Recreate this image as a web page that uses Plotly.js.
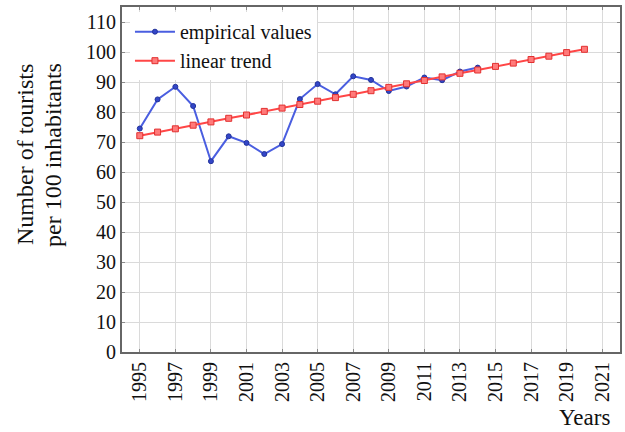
<!DOCTYPE html>
<html>
<head>
<meta charset="utf-8">
<script src="https://cdn.plot.ly/plotly-3.0.1.min.js"></script>
<style>
  html, body { margin: 0; padding: 0; background: #fff; }
  #chart { width: 625px; height: 432px; }
</style>
</head>
<body>
<div id="chart"></div>
<script>
// Tourist intensity: observed values and fitted linear trend
const empiricalYears = [1995, 1996, 1997, 1998, 1999, 2000, 2001, 2002, 2003, 2004,
                        2005, 2006, 2007, 2008, 2009, 2010, 2011, 2012, 2013, 2014];
const empiricalValues = [74.5, 84.2, 88.4, 82.0, 63.6, 71.9, 69.7, 66.0, 69.3, 84.3,
                         89.3, 85.9, 91.9, 90.7, 87.0, 88.5, 91.5, 90.6, 93.5, 94.8];

const trendYears = [1995, 1996, 1997, 1998, 1999, 2000, 2001, 2002, 2003, 2004,
                    2005, 2006, 2007, 2008, 2009, 2010, 2011, 2012, 2013, 2014,
                    2015, 2016, 2017, 2018, 2019, 2020];
const trendValues = [72.1, 73.3, 74.4, 75.6, 76.7, 77.9, 79.0, 80.2, 81.3, 82.5,
                     83.6, 84.8, 85.9, 87.1, 88.2, 89.4, 90.5, 91.7, 92.9, 94.0,
                     95.2, 96.3, 97.5, 98.6, 99.8, 100.9];

const xTickVals = [1995, 1997, 1999, 2001, 2003, 2005, 2007, 2009, 2011, 2013, 2015, 2017, 2019, 2021];
const yTickVals = [0, 10, 20, 30, 40, 50, 60, 70, 80, 90, 100, 110];

const yTitleLines = ["Number of tourists", "per 100 inhabitants"];
const xTitle = "Years";

const serif = "Liberation Serif, Times New Roman, serif";
const ink = "#111";

const traces = [
  {
    x: empiricalYears, y: empiricalValues,
    name: "empirical values",
    type: "scatter", mode: "lines+markers",
    line: { color: "#4a5ee0", width: 2 },
    marker: { symbol: "circle", size: 5, color: "#3346c8", line: { color: "#23339a", width: 1 } }
  },
  {
    x: trendYears, y: trendValues,
    name: "linear trend",
    type: "scatter", mode: "lines+markers",
    line: { color: "#ff4646", width: 2 },
    marker: { symbol: "square", size: 6, color: "#ff7a7a", line: { color: "#e23030", width: 1 } }
  }
];

const axisCommon = {
  showgrid: true,
  gridcolor: "#dadada",
  gridwidth: 1,
  zeroline: false,
  showline: true,
  linecolor: "#666",
  linewidth: 2,
  mirror: "ticks",
  ticks: "inside",
  ticklen: 3,
  tickcolor: "#8a8a8a",
  tickfont: { family: serif, size: 20, color: ink }
};

// Y title drawn as two rotated lines placed left of the tick labels
const yTitleAnnotations = yTitleLines.map((line, i) => ({
  text: line,
  xref: "paper", yref: "paper",
  x: 0, y: 0.571,
  xanchor: "center", yanchor: "middle",
  xshift: -97 + i * 28,
  textangle: -90,
  showarrow: false,
  font: { family: serif, size: 24, color: ink }
}));

const layout = {
  width: 625, height: 432,
  margin: { l: 122, r: 5, t: 7, b: 80 },
  paper_bgcolor: "#fff",
  plot_bgcolor: "#fff",
  showlegend: true,
  legend: {
    x: 0.016, y: 0.985, xanchor: "left", yanchor: "top",
    bgcolor: "#fff",
    font: { family: serif, size: 20, color: ink },
    itemwidth: 40,
    tracegroupgap: 0
  },
  xaxis: Object.assign({}, axisCommon, {
    range: [1994, 2022],
    tickmode: "array",
    tickvals: xTickVals,
    ticktext: xTickVals.map(String),
    tickangle: -90
  }),
  yaxis: Object.assign({}, axisCommon, {
    range: [0, 115],
    tickmode: "array",
    tickvals: yTickVals,
    ticktext: yTickVals.map(String)
  }),
  annotations: yTitleAnnotations.concat([
    {
      text: xTitle,
      xref: "paper", yref: "paper",
      x: 1.0, y: 0, xanchor: "right", yanchor: "top",
      xshift: -8, yshift: -51,
      showarrow: false,
      font: { family: serif, size: 23, color: ink }
    }
  ])
};

Plotly.newPlot("chart", traces, layout, { displayModeBar: false, staticPlot: true });
</script>
</body>
</html>
